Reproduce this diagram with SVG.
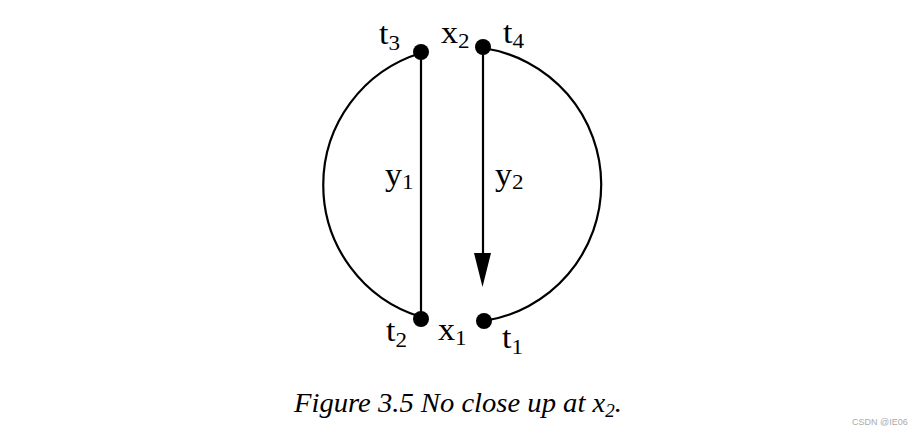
<svg xmlns="http://www.w3.org/2000/svg" width="924" height="438" viewBox="0 0 924 438">
<style>
.ln{fill:none;stroke:#000;stroke-width:2.2}
.lb{font-family:"Liberation Serif",serif;font-size:31px;fill:#000}
.sb{font-size:21px}
.cap{font-family:"Liberation Serif",serif;font-size:27px;font-style:italic;fill:#000}
.wm{font-family:"Liberation Sans",sans-serif;font-size:9px;fill:#aaa}
</style>
<rect width="924" height="438" fill="#fff"/>
<g id="connectors">
<path class="ln" d="M421,53 A138,138 0 0 0 421,317"/>
<path class="ln" d="M483,48 A138,138 0 0 1 484,321"/>
<line class="ln" x1="421" y1="52" x2="421" y2="319"/>
<line class="ln" x1="483" y1="47" x2="483" y2="258"/>
<path d="M474,253 L491,253 L482.5,287 Z" fill="#000"/>
</g>
<g id="t3"><circle cx="421" cy="52" r="8"/><text class="lb" transform="translate(379,44) scale(1.1,1)">t<tspan class="sb" dy="6">3</tspan></text></g>
<g id="t4"><circle cx="483" cy="47" r="8"/><text class="lb" transform="translate(503,43) scale(1.1,1)">t<tspan class="sb" dy="5">4</tspan></text></g>
<g id="x2"><text class="lb" transform="translate(441,43) scale(1.1,1)">x<tspan class="sb" dy="5">2</tspan></text></g>
<g id="t2"><circle cx="421" cy="319" r="8"/><text class="lb" transform="translate(386,341) scale(1.1,1)">t<tspan class="sb" dy="6">2</tspan></text></g>
<g id="t1"><circle cx="484" cy="321" r="8"/><text class="lb" transform="translate(502,348) scale(1.1,1)">t<tspan class="sb" dy="6">1</tspan></text></g>
<g id="x1"><text class="lb" transform="translate(438,340) scale(1.1,1)">x<tspan class="sb" dy="5">1</tspan></text></g>
<g id="y1"><text class="lb" transform="translate(385,185) scale(1.1,1)">y<tspan class="sb" dy="4">1</tspan></text></g>
<g id="y2"><text class="lb" transform="translate(495,185) scale(1.1,1)">y<tspan class="sb" dy="4">2</tspan></text></g>
<text class="cap" transform="translate(294,412) scale(1.06,1)">Figure 3.5 No close up at x<tspan font-size="18" dy="5">2</tspan><tspan dy="-5">.</tspan></text>
<text class="wm" x="852" y="425">CSDN @IE06</text>
</svg>
